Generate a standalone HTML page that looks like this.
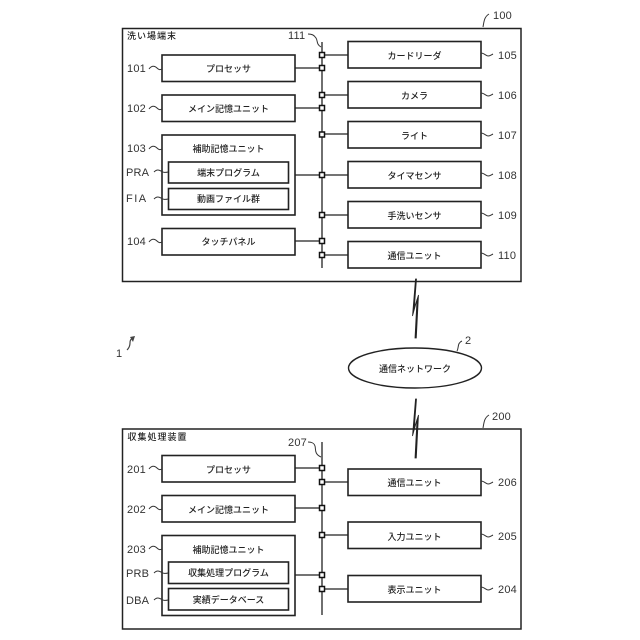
<!DOCTYPE html>
<html><head><meta charset="utf-8"><style>
html,body{margin:0;padding:0;background:#fff}
svg{display:block}
text{font-family:"Liberation Sans","Noto Sans CJK JP",sans-serif;fill:#222}
.j{font-size:9px;text-anchor:middle;font-weight:500}
.n{font-size:11px;fill:#333;letter-spacing:0.2px}
.b{fill:#fff;stroke:#222;stroke-width:1.6}
.l{fill:none;stroke:#222;stroke-width:1.3}
.t{fill:none;stroke:#333;stroke-width:1}
.s{fill:#fff;stroke:#111;stroke-width:1.5}
</style></head><body>
<svg width="640" height="640" viewBox="0 0 640 640" xmlns="http://www.w3.org/2000/svg">
<rect width="640" height="640" fill="#fff"/>
<!-- outer boxes -->
<rect x="122.5" y="28.5" width="398.5" height="253" fill="#fff" stroke="#222" stroke-width="1.5"/>
<rect x="122.5" y="429" width="398.5" height="200" fill="#fff" stroke="#222" stroke-width="1.5"/>

<!-- bus 1 -->
<line class="l" x1="322" y1="42" x2="322" y2="268"/>
<path class="l" d="M295 68H322M295 108H322M295 175H322M295 241H322M322 55H348M322 95H348M322 134H348M322 175H348M322 215H348M322 255H348"/>
<g class="s">
<rect x="319.5" y="52.5" width="5" height="5"/><rect x="319.5" y="65.5" width="5" height="5"/>
<rect x="319.5" y="92.5" width="5" height="5"/><rect x="319.5" y="105.5" width="5" height="5"/>
<rect x="319.5" y="132" width="5" height="5"/><rect x="319.5" y="172.5" width="5" height="5"/>
<rect x="319.5" y="212.5" width="5" height="5"/><rect x="319.5" y="238.5" width="5" height="5"/>
<rect x="319.5" y="252.5" width="5" height="5"/>
</g>
<!-- bus 2 -->
<line class="l" x1="322" y1="442" x2="322" y2="615"/>
<path class="l" d="M295 468H322M295 508H322M295 575H322M322 482H348M322 535H348M322 589H348"/>
<g class="s">
<rect x="319.5" y="465.5" width="5" height="5"/><rect x="319.5" y="479.5" width="5" height="5"/>
<rect x="319.5" y="505.5" width="5" height="5"/><rect x="319.5" y="532.5" width="5" height="5"/>
<rect x="319.5" y="572.5" width="5" height="5"/><rect x="319.5" y="586.5" width="5" height="5"/>
</g>

<!-- left boxes 1 -->
<rect class="b" x="162" y="55" width="133" height="26.5"/>
<rect class="b" x="162" y="95" width="133" height="26.5"/>
<rect class="b" x="162" y="135" width="133" height="80"/>
<rect class="b" x="168.5" y="162" width="120" height="21"/>
<rect class="b" x="168.5" y="188.5" width="120" height="21"/>
<rect class="b" x="162" y="228.5" width="133" height="26.5"/>
<!-- right boxes 1 -->
<rect class="b" x="348" y="41.5" width="133" height="26.5"/>
<rect class="b" x="348" y="81.5" width="133" height="26.5"/>
<rect class="b" x="348" y="121.5" width="133" height="26.5"/>
<rect class="b" x="348" y="161.5" width="133" height="26.5"/>
<rect class="b" x="348" y="201.5" width="133" height="26.5"/>
<rect class="b" x="348" y="241.5" width="133" height="26.5"/>
<!-- left boxes 2 -->
<rect class="b" x="162" y="455.5" width="133" height="26.5"/>
<rect class="b" x="162" y="495.5" width="133" height="26.5"/>
<rect class="b" x="162" y="535.5" width="133" height="80"/>
<rect class="b" x="168.5" y="562" width="120" height="21.5"/>
<rect class="b" x="168.5" y="588.5" width="120" height="21.5"/>
<!-- right boxes 2 -->
<rect class="b" x="348" y="469" width="133" height="26.5"/>
<rect class="b" x="348" y="522" width="133" height="26.5"/>
<rect class="b" x="348" y="575.5" width="133" height="26.5"/>

<!-- ellipse -->
<ellipse cx="415" cy="368" rx="66.5" ry="20" fill="#fff" stroke="#222" stroke-width="1.4"/>

<!-- lightning -->
<path fill="#222" stroke="#222" stroke-width="0.8" stroke-linejoin="miter" d="M415.5 279L412.5 316L417 299.5L415 338L416.3 338L418.5 295L414.3 308L416.5 279Z"/>
<path fill="#222" stroke="#222" stroke-width="0.8" d="M415.5 399L412.5 436L417 419.5L415 458L416.3 458L418.5 415L414.3 428L416.5 399Z"/>

<!-- leaders -->
<path class="t" d="M149 69c3-4 6-3 8-1s3 2 5 1M149 109c3-4 6-3 8-1s3 2 5 1M149 149c3-4 6-3 8-1s3 2 5 1M154 172c3-3 5-2 7-1s3 2 7 1M154 199c3-3 5-2 7-1s3 2 7 1M149 242c3-4 6-3 8-1s3 2 5 1"/>
<path class="t" d="M481 53c3 0 5 3 7 3s3-1 5-2M481 93c3 0 5 3 7 3s3-1 5-2M481 133c3 0 5 3 7 3s3-1 5-2M481 173c3 0 5 3 7 3s3-1 5-2M481 213c3 0 5 3 7 3s3-1 5-2M481 253c3 0 5 3 7 3s3-1 5-2"/>
<path class="t" d="M481 481c3 0 5 3 7 3s3-1 5-2M481 534c3 0 5 3 7 3s3-1 5-2M481 587c3 0 5 3 7 3s3-1 5-2"/>
<path class="t" d="M149 469c3-4 6-3 8-1s3 2 5 1M149 509c3-4 6-3 8-1s3 2 5 1M149 549c3-4 6-3 8-1s3 2 5 1M154 573c3-3 5-2 7-1s3 2 7 1M154 600c3-3 5-2 7-1s3 2 7 1"/>
<path class="t" d="M308 34c4 0 6 1 8 4s0 6 5 9"/>
<path class="t" d="M308 442c4 0 6 1 7 4s-1 8 6 11"/>
<path class="t" d="M483 27c1-5 1-10 6-13"/>
<path class="t" d="M483 428c1-5 1-10 6-13"/>
<path class="t" d="M457 351c2-3 0-8 5-10"/>
<path d="M127 350c2-2 3-4 3-7s1-4 3-5" fill="none" stroke="#444" stroke-width="1.2"/>
<path d="M130 337L135 336L133 342Z" fill="#444"/>

<!-- Japanese labels -->
<text class="j" x="152" y="39" style="font-size:9px;letter-spacing:1px">洗い場端末</text>
<text class="j" x="228.5" y="72">プロセッサ</text>
<text class="j" x="228.5" y="112">メイン記憶ユニット</text>
<text class="j" x="228.5" y="152">補助記憶ユニット</text>
<text class="j" x="228.5" y="176">端末プログラム</text>
<text class="j" x="228.5" y="202">動画ファイル群</text>
<text class="j" x="228.5" y="245">タッチパネル</text>
<text class="j" x="414.5" y="59">カードリーダ</text>
<text class="j" x="414.5" y="99">カメラ</text>
<text class="j" x="414.5" y="139">ライト</text>
<text class="j" x="414.5" y="179">タイマセンサ</text>
<text class="j" x="414.5" y="219">手洗いセンサ</text>
<text class="j" x="414.5" y="259">通信ユニット</text>
<text class="j" x="415" y="372">通信ネットワーク</text>
<text class="j" x="157.5" y="440" style="font-size:9px;letter-spacing:1px">収集処理装置</text>
<text class="j" x="228.5" y="473">プロセッサ</text>
<text class="j" x="228.5" y="513">メイン記憶ユニット</text>
<text class="j" x="228.5" y="553">補助記憶ユニット</text>
<text class="j" x="228.5" y="576">収集処理プログラム</text>
<text class="j" x="228.5" y="603">実績データベース</text>
<text class="j" x="414.5" y="486">通信ユニット</text>
<text class="j" x="414.5" y="540">入力ユニット</text>
<text class="j" x="414.5" y="593">表示ユニット</text>

<!-- numeric labels -->
<text class="n" x="127" y="72">101</text>
<text class="n" x="127" y="112">102</text>
<text class="n" x="127" y="152">103</text>
<text class="n" x="126" y="176">PRA</text>
<text class="n" x="126" y="202" style="letter-spacing:1.5px">FIA</text>
<text class="n" x="127" y="245">104</text>
<text class="n" x="288" y="39">111</text>
<text class="n" x="493" y="19">100</text>
<text class="n" x="498" y="59">105</text>
<text class="n" x="498" y="99">106</text>
<text class="n" x="498" y="139">107</text>
<text class="n" x="498" y="179">108</text>
<text class="n" x="498" y="219">109</text>
<text class="n" x="498" y="259">110</text>
<text class="n" x="465" y="344">2</text>
<text class="n" x="116" y="357">1</text>
<text class="n" x="492" y="420">200</text>
<text class="n" x="288" y="446">207</text>
<text class="n" x="127" y="473">201</text>
<text class="n" x="127" y="513">202</text>
<text class="n" x="127" y="553">203</text>
<text class="n" x="126" y="577">PRB</text>
<text class="n" x="126" y="604">DBA</text>
<text class="n" x="498" y="486">206</text>
<text class="n" x="498" y="540">205</text>
<text class="n" x="498" y="593">204</text>
</svg>
</body></html>
